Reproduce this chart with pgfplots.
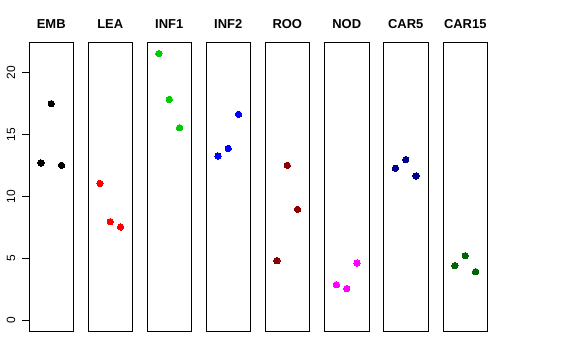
\documentclass[border=0pt]{standalone}
\usepackage{pgfplots}
\pgfplotsset{compat=1.18}
\usepackage{fontspec}
\setmainfont{Liberation Sans}
\definecolor{green3}{RGB}{0,205,0}
\definecolor{rdarkred}{RGB}{139,0,0}
\definecolor{rdarkblue}{RGB}{0,0,139}
\definecolor{rdarkgreen}{RGB}{0,100,0}
\definecolor{rmagenta}{RGB}{255,0,255}
\pgfplotsset{
  panel/.style={
    scale only axis, width=44.5bp, height=288.3bp,
    xmin=-0.16, xmax=4.16, ymin=-0.865, ymax=22.44,
    xtick=\empty, ytick=\empty,
    axis line style={line width=0.8bp},
    title style={anchor=base, yshift=8.4bp, inner sep=0pt,
      font=\fontsize{13}{13}\selectfont\bfseries},
    anchor=south west, clip=false,
  },
  pts/.style={only marks, mark=*, mark size=3.2bp,
    mark options={draw=#1, fill=#1, line width=0pt}},
}
\begin{document}
\begin{tikzpicture}
\useasboundingbox (0,0) rectangle (576bp,360bp);
\begin{axis}[panel, at={(29bp,29bp)}, title={EMB},
  ytick={0,5,10,15,20}, ytick pos=left, tick align=outside,
  major tick length=7bp, ytick style={line width=0.8bp, black},
  /pgf/number format/assume math mode=true,
  yticklabel style={rotate=90, anchor=south, inner sep=0pt, yshift=6.5bp,
    font=\fontsize{12}{12}\selectfont}]
\addplot[pts=black] coordinates {(1,12.72)(2,17.51)(3,12.53)};
\end{axis}
\begin{axis}[panel, at={(88bp,29bp)}, title={LEA}]
\addplot[pts=red] coordinates {(1,11.07)(2,7.97)(3,7.54)};
\end{axis}
\begin{axis}[panel, at={(147bp,29bp)}, title={INF1}]
\addplot[pts=green3] coordinates {(1,21.56)(2,17.86)(3,15.57)};
\end{axis}
\begin{axis}[panel, at={(206bp,29bp)}, title={INF2}]
\addplot[pts=blue] coordinates {(1,13.28)(2,13.90)(3,16.65)};
\end{axis}
\begin{axis}[panel, at={(265bp,29bp)}, title={ROO}]
\addplot[pts=rdarkred] coordinates {(1,4.82)(2,12.53)(3,8.97)};
\end{axis}
\begin{axis}[panel, at={(324.5bp,29bp)}, title={NOD}]
\addplot[pts=rmagenta] coordinates {(1,2.88)(2,2.56)(3,4.63)};
\end{axis}
\begin{axis}[panel, at={(383.5bp,29bp)}, title={CAR5}]
\addplot[pts=rdarkblue] coordinates {(1,12.29)(2,12.99)(3,11.67)};
\end{axis}
\begin{axis}[panel, at={(443bp,29bp)}, title={CAR15}]
\addplot[pts=rdarkgreen] coordinates {(1,4.42)(2,5.22)(3,3.93)};
\end{axis}
\end{tikzpicture}
\end{document}
